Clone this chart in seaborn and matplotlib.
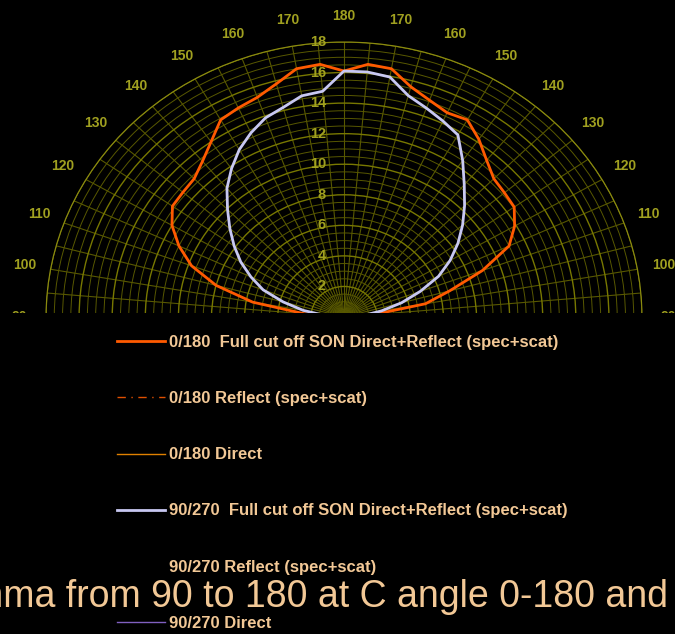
import numpy as np
import pandas as pd
import seaborn as sns
import matplotlib
matplotlib.use("Agg")
import matplotlib.pyplot as plt
from matplotlib import font_manager
from matplotlib.lines import Line2D
from matplotlib.patches import Rectangle
from matplotlib.ticker import MultipleLocator, FixedLocator
from matplotlib.transforms import offset_copy

# === Data (gamma angle vs value)
gamma = [90, 95, 100, 105, 110, 115, 120, 125, 130, 135,
         140, 145, 150, 155, 160, 165, 170, 175, 180]

# orange, 0/180 full cut off (left half = C180, right half = C0)
c180_full = [0.0, 2.4, 5.6, 8.0, 9.8, 11.0, 12.0, 12.65, 12.7, 12.8,
             13.3, 14.0, 14.9, 15.1, 15.3, 15.8, 16.5, 16.6, 16.1]
c0_full = [0.0, 1.8, 5.0, 6.6, 8.9, 11.0, 11.9, 12.55, 12.65, 12.8,
           13.4, 14.2, 14.9, 14.75, 15.1, 15.6, 16.5, 16.6, 16.1]

# lavender, 90/270 full cut off (left half = C270, right half = C90)
c270_full = [0.0, 1.2, 2.5, 3.8, 5.2, 6.2, 7.2, 8.1, 9.0, 9.95,
             11.0, 11.85, 12.65, 13.3, 13.87, 14.2, 14.7, 14.83, 16.1]
c90_full = [0.0, 1.2, 2.3, 3.6, 4.9, 6.3, 7.4, 8.4, 9.35, 10.3,
            11.3, 12.5, 13.76, 14.15, 14.55, 15.0, 15.95, 16.1, 16.1]

r_ticks = [2, 4, 6, 8, 10, 12, 14, 16, 18]
theta_tick_deg = list(range(0, 181, 10))
theta_tick_labels = ["90", "100", "110", "120", "130", "140", "150", "160", "170", "180",
                     "170", "160", "150", "140", "130", "120", "110", "100", "90"]

legend_labels = [
    "0/180  Full cut off SON Direct+Reflect (spec+scat)",
    "0/180 Reflect (spec+scat)",
    "0/180 Direct",
    "90/270  Full cut off SON Direct+Reflect (spec+scat)",
    "90/270 Reflect (spec+scat)",
    "90/270 Direct",
]
title_text = "Gamma from 90 to 180 at C angle 0-180 and"

# === Fonts
installed = {f.name for f in font_manager.fontManager.ttflist}
narrow = "Liberation Sans Narrow" if "Liberation Sans Narrow" in installed else "Liberation Sans"
plt.rcParams["font.family"] = ["Liberation Sans", "DejaVu Sans"]

GRID = "#585800"
GRID_MAJ = "#787800"
LABEL = "#a0a020"
TEXT = "#f2c896"
ORANGE = "#ff5a00"
LAVENDER = "#c8c8f2"


def both_halves(left, right):
    # left half: gamma 90 -> 180 (theta 180 -> 90), right half: 175 -> 90 (theta 85 -> 0)
    g = np.array(gamma, dtype=float)
    th = np.concatenate([np.radians(270 - g), np.radians(g[::-1][1:] - 90)])
    r = np.concatenate([np.array(left), np.array(right)[::-1][1:]])
    return th, r


rows = []
for name, left, right in [("0/180", c180_full, c0_full), ("90/270", c270_full, c90_full)]:
    th, r = both_halves(left, right)
    rows.append(pd.DataFrame({"theta": th, "r": r, "series": name}))
df = pd.concat(rows, ignore_index=True)

# === Figure
fig = plt.figure(figsize=(6.75, 6.34), dpi=100, facecolor="black")
W, H = 675, 634
ax = fig.add_axes([46 / W, 1 - 454.5 / H, 596 / W, 550 / H], projection="polar")
ax.set_facecolor("black")
ax.set_thetamin(0)
ax.set_thetamax(180)
ax.set_aspect("auto")

sns.lineplot(data=df[df.series == "0/180"], x="theta", y="r", sort=False, estimator=None,
             color=ORANGE, linewidth=2.0, ax=ax)
sns.lineplot(data=df[df.series == "90/270"], x="theta", y="r", sort=False, estimator=None,
             color=LAVENDER, linewidth=2.0, ax=ax)
ax.set_xlabel("")
ax.set_ylabel("")

ax.set_ylim(0, 18)
ax.set_yticks(r_ticks)
ax.set_yticklabels([])
ax.yaxis.set_minor_locator(MultipleLocator(0.5))
ax.set_xticks(np.radians(theta_tick_deg))
ax.set_xticklabels(theta_tick_labels, color=LABEL, fontsize=10, fontweight="bold")
ax.xaxis.set_minor_locator(FixedLocator(np.radians(np.arange(0, 181, 5))))
ax.tick_params(axis="both", which="both", length=0)
ax.tick_params(axis="x", pad=12)
ax.grid(True, which="major", axis="y", color=GRID_MAJ, linewidth=1.0)
ax.grid(True, which="minor", axis="y", color=GRID, linewidth=0.7)
ax.grid(True, which="both", axis="x", color=GRID, linewidth=0.8)
ax.spines["polar"].set_color("#8c8c10")
for s in ["start", "end", "inner"]:
    if s in ax.spines:
        ax.spines[s].set_visible(False)

# radial labels just left of the 180 line
off = offset_copy(ax.transData, fig=fig, x=-13, y=0, units="points")
for r in r_ticks:
    ax.text(np.pi / 2, r, str(r), transform=off, ha="right", va="center",
            color=LABEL, fontsize=10.5, fontweight="bold", clip_on=False)

# black band under the horizon
fig.add_artist(Rectangle((0, 1 - 330 / H), 1, 17 / H, transform=fig.transFigure,
                         facecolor="black", edgecolor="none", zorder=3))

# === Legend
handles = [
    Line2D([], [], color=ORANGE, lw=2.0),
    Line2D([], [], color="#e05000", lw=1.0, ls=(0, (6, 4, 1, 4))),
    Line2D([], [], color="#e08000", lw=1.0),
    Line2D([], [], color=LAVENDER, lw=2.0),
    Line2D([], [], color="black", lw=1.0),
    Line2D([], [], color="#8060c0", lw=1.0),
]
leg = fig.legend(handles, legend_labels, loc="upper left", bbox_to_anchor=(117 / W, 1 - 335 / H),
                 frameon=False, labelspacing=2.47, handlelength=2.85,
                 handletextpad=0.25, borderaxespad=0, borderpad=0,
                 prop={"weight": "bold", "size": 12})
for t in leg.get_texts():
    t.set_color(TEXT)

fig.text(668 / W, 1 - 597 / H, title_text, ha="right", va="center",
         fontsize=27, color=TEXT, family=[narrow, "DejaVu Sans"], zorder=6)

fig.savefig("out.png", dpi=100, facecolor="black")
